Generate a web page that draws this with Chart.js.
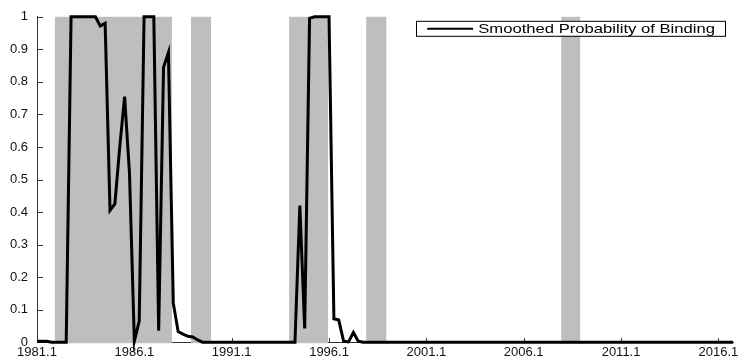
<!DOCTYPE html>
<html lang="en">

<head>
    <script src="https://cdn.jsdelivr.net/npm/chart.js"></script>
    <meta charset="UTF-8">
    <title>Smoothed Probability of Binding</title>
    <style>
        html, body {
            margin: 0;
            padding: 0;
            background: #fff;
        }

        #wrap {
            width: 741px;
            height: 359px;
        }
    </style>
</head>

<body>
    <div id="wrap"><canvas id="probChart" width="741" height="359"></canvas></div>

    <script>
        // quarterly series, first obs 1981Q1
        const startYear = 1981;
        const probBinding = [
            0.003, 0.003, 0.003, 0, 0, 0, 0, 1, 1, 1,
            1, 1, 1, 0.972, 0.98, 0.405, 0.425, 0.6, 0.755, 0.52,
            0.003, 0.065, 1, 1, 1, 0.035, 0.845, 0.89, 0.12, 0.033,
            0.025, 0.018, 0.016, 0.007, 0, 0, 0, 0, 0, 0,
            0, 0, 0, 0, 0, 0, 0, 0, 0, 0,
            0, 0, 0, 0, 0.42, 0.042, 0.995, 1, 1, 1,
            1, 0.072, 0.068, 0.003, 0.001, 0.03, 0.003, 0, 0, 0,
            0, 0, 0, 0, 0, 0, 0, 0, 0, 0,
            0, 0, 0, 0, 0, 0, 0, 0, 0, 0,
            0, 0, 0, 0, 0, 0, 0, 0, 0, 0,
            0, 0, 0, 0, 0, 0, 0, 0, 0, 0,
            0, 0, 0, 0, 0, 0, 0, 0, 0, 0,
            0, 0, 0, 0, 0, 0, 0, 0, 0, 0,
            0, 0, 0, 0, 0, 0, 0, 0, 0, 0,
            0, 0, 0, 0
        ];

        // shaded periods (decimal years)
        const bandStart = [1981.92, 1988.91, 1993.95, 1997.91, 2007.93];
        const bandEnd = [1987.93, 1989.94, 1995.95, 1998.94, 2008.9];

        const xTickYears = [1981, 1986, 1991, 1996, 2001, 2006, 2011, 2016];
        const yTicks = [0, 0.1, 0.2, 0.3, 0.4, 0.5, 0.6, 0.7, 0.8, 0.9, 1];
        const xMin = 1981, xMax = 2016.75;
        const legendLabel = 'Smoothed Probability of Binding';

        const points = probBinding.map((v, i) => ({ x: startYear + i / 4, y: v }));

        const axisColor = '#333';
        const tickFont = { family: '"Liberation Sans", Arial, sans-serif', size: 13 };

        // bands + inward tick marks, drawn under the line
        const bandsPlugin = {
            id: 'bands',
            beforeDatasetsDraw(chart) {
                const ctx = chart.ctx;
                const xs = chart.scales.x, ys = chart.scales.y;
                const area = chart.chartArea;
                ctx.save();
                ctx.strokeStyle = axisColor;
                ctx.lineWidth = 1;
                yTicks.forEach(v => {
                    const py = Math.round(ys.getPixelForValue(v)) + 0.5;
                    ctx.beginPath();
                    ctx.moveTo(area.left, py);
                    ctx.lineTo(area.left + 6, py);
                    ctx.stroke();
                });
                xTickYears.forEach(v => {
                    const px = Math.round(xs.getPixelForValue(v)) + 0.5;
                    ctx.beginPath();
                    ctx.moveTo(px, area.bottom);
                    ctx.lineTo(px, area.bottom - 4);
                    ctx.stroke();
                });
                ctx.fillStyle = '#bebebe';
                bandStart.forEach((s, i) => {
                    const x0 = xs.getPixelForValue(s);
                    const x1 = xs.getPixelForValue(bandEnd[i]);
                    ctx.fillRect(x0, area.top, x1 - x0, area.bottom - area.top + 1);
                });
                ctx.restore();
            }
        };

        // boxed legend in the upper right like the original
        const boxLegend = {
            id: 'boxLegend',
            afterDraw(chart) {
                const ctx = chart.ctx;
                const area = chart.chartArea;
                const stretch = 1.28;
                ctx.save();
                ctx.font = '13px "Liberation Sans", Arial, sans-serif';
                const tw = ctx.measureText(legendLabel).width * stretch;
                const w = 11 + 46 + 5 + tw + 10;
                const h = 15;
                const right = area.right - 8;
                const left = right - w;
                const top = area.top + 4;
                ctx.fillStyle = '#fff';
                ctx.fillRect(left, top, w, h);
                ctx.strokeStyle = '#000';
                ctx.lineWidth = 1;
                ctx.strokeRect(Math.round(left) + 0.5, top + 0.5, Math.round(w), h);
                ctx.lineWidth = 2;
                ctx.beginPath();
                ctx.moveTo(left + 11, top + h / 2 + 0.5);
                ctx.lineTo(left + 57, top + h / 2 + 0.5);
                ctx.stroke();
                ctx.fillStyle = '#000';
                ctx.textBaseline = 'middle';
                ctx.translate(left + 62, top + h / 2 + 1);
                ctx.scale(stretch, 1);
                ctx.fillText(legendLabel, 0, 0);
                ctx.restore();
            }
        };

        new Chart(document.getElementById('probChart'), {
            type: 'line',
            data: {
                datasets: [{
                    label: legendLabel,
                    data: points,
                    borderColor: '#000',
                    borderWidth: 3,
                    pointRadius: 0,
                    tension: 0,
                    fill: false,
                    clip: false
                }]
            },
            options: {
                responsive: false,
                animation: false,
                layout: {
                    padding: { top: 13, right: 8, left: 0, bottom: 0 }
                },
                scales: {
                    x: {
                        type: 'linear',
                        min: xMin,
                        max: xMax,
                        afterBuildTicks: scale => {
                            scale.ticks = xTickYears.map(v => ({ value: v }));
                        },
                        afterFit: scale => { scale.height = 14; },
                        grid: { drawOnChartArea: false, drawTicks: false },
                        border: { display: true, color: axisColor, width: 1 },
                        ticks: {
                            padding: 2,
                            color: '#111',
                            font: tickFont,
                            maxRotation: 0,
                            autoSkip: false,
                            callback: v => v + '.1'
                        }
                    },
                    y: {
                        min: 0,
                        max: 1,
                        afterBuildTicks: scale => {
                            scale.ticks = yTicks.map(v => ({ value: v }));
                        },
                        afterFit: scale => { scale.width = 37; },
                        grid: { drawOnChartArea: false, drawTicks: false },
                        border: { display: true, color: axisColor, width: 1 },
                        ticks: {
                            padding: 9,
                            color: '#111',
                            font: tickFont,
                            autoSkip: false,
                            callback: v => String(Number(v.toFixed(1)))
                        }
                    }
                },
                plugins: {
                    legend: { display: false },
                    tooltip: { enabled: false }
                }
            },
            plugins: [bandsPlugin, boxLegend]
        });
    </script>
</body>

</html>
